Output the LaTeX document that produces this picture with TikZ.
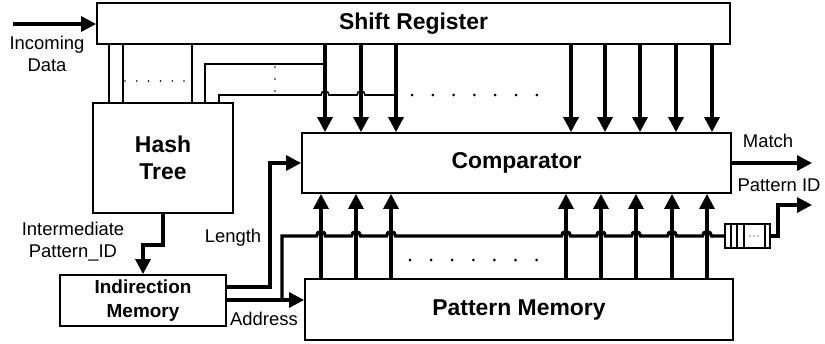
\documentclass[tikz,border=0pt]{standalone}
\usepackage{fontspec}
\setmainfont{Liberation Sans}
\usetikzlibrary{arrows.meta}
\begin{document}
\begin{tikzpicture}[x=1bp,y=-1bp,
  block/.style={draw, line width=1.8bp, inner sep=0pt, align=center,
    font=\bfseries\fontsize{23}{27}\selectfont},
  wire/.style={line width=1.6bp},
  bus/.style={line width=3.2bp},
  arr/.style={-{Triangle[length=15bp,width=15bp]}},
  lbl/.style={inner sep=0pt, align=center, font=\fontsize{18.5}{22}\selectfont}
]
\useasboundingbox (0,0) rectangle (825,343);

% functional blocks
\node[block, minimum width=633bp, minimum height=41bp] (sr)   at (413.5,23.5) {Shift Register};
\node[block, minimum width=140bp, minimum height=110bp] (hash) at (163,158)   {Hash\\Tree};
\node[block, minimum width=429bp, minimum height=60bp] (cmp)  at (516.5,163)  {Comparator};
\node[block, minimum width=428bp, minimum height=61bp] (pm)   at (519,309.5)  {Pattern Memory};
\node[block, minimum width=166bp, minimum height=51bp,
      font=\bfseries\fontsize{19}{24}\selectfont] (ind) at (143,300.5) {Indirection\\Memory};
\node[draw, line width=1.6bp, inner sep=0pt, minimum width=45bp, minimum height=24bp] (fifo) at (747.5,236) {};

% FIFO slots
\foreach \x in {731,737,744,765}
  \draw[line width=1.3bp] (\x,0 |- fifo.north) -- (\x,0 |- fifo.south);
\foreach \x in {750,754,758}
  \fill (\x,236) circle[radius=0.6bp];

% incoming data
\coordinate (in) at (13,24);
\draw[bus,arr] (in) -- (sr.west |- in);
\node[lbl] (inlbl) at (47,53.5) {Incoming\\Data};

% shift register taps into the hash tree
\foreach \x in {109,123,192}
  \draw[wire] (\x,0 |- sr.south) -- (\x,0 |- hash.north);
\foreach \i in {0,...,5}
  \fill (125+11.8*\i,81) circle[radius=0.9bp];
\foreach \i in {0,...,2}
  \fill (275,67+12*\i) circle[radius=0.9bp];

% hash tree outputs feeding the comparator lanes
\coordinate (ta) at (205,64);
\coordinate (tb) at (219,95);
\draw[wire] (ta |- hash.north) -- (ta) -- (325,64);
\draw[wire] (tb |- hash.north) -- (tb) -- (321,95)
  arc[start angle=180, end angle=0, radius=4bp] -- (357,95)
  arc[start angle=180, end angle=0, radius=4bp] -- (396,95);

% shift register to comparator
\foreach \x in {325,361,396,571,605,640,676,712}
  \draw[bus,arr] (\x,0 |- sr.south) -- (\x,0 |- cmp.north);
\foreach \i in {0,...,6}
  \fill (412+20.8*\i,95) circle[radius=1.5bp];

% pattern memory to comparator
\foreach \x in {321,356,391,566,601,636,672,707}
  \draw[bus,arr] (\x,0 |- pm.north) -- (\x,0 |- cmp.south);
\foreach \i in {0,...,6}
  \fill (410+21.1*\i,260) circle[radius=1.5bp];

% hash tree to indirection memory
\coordinate (h1) at (163,245);
\coordinate (h2) at (143,245);
\draw[bus,arr] (h1 |- hash.south) -- (h1) -- (h2) -- (h2 |- ind.north);
\node[lbl] (interlbl) at (73,241.5) {Intermediate\\Pattern\_ID};

% length to comparator
\coordinate (l1) at (270,287);
\draw[bus,arr] (ind.east |- l1) -- (l1) -- (l1 |- cmp.west) -- (cmp.west);
\node[lbl] (lenlbl) at (233,238) {Length};

% address to pattern memory, and the pattern ID bus
\coordinate (a1) at (282,300);
\coordinate (a2) at (282,236);
\draw[bus,arr] (ind.east |- a1) -- (pm.west |- a1);
\draw[bus] (a1) -- (a2) -- (316.5,236)
  arc[start angle=180, end angle=0, radius=4.5bp] -- (351.5,236)
  arc[start angle=180, end angle=0, radius=4.5bp] -- (386.5,236)
  arc[start angle=180, end angle=0, radius=4.5bp] -- (561.5,236)
  arc[start angle=180, end angle=0, radius=4.5bp] -- (596.5,236)
  arc[start angle=180, end angle=0, radius=4.5bp] -- (631.5,236)
  arc[start angle=180, end angle=0, radius=4.5bp] -- (667.5,236)
  arc[start angle=180, end angle=0, radius=4.5bp] -- (702.5,236)
  arc[start angle=180, end angle=0, radius=4.5bp] -- (fifo.west);
\node[lbl] (addrlbl) at (264,319) {Address};

% outputs
\coordinate (mo) at (812,163);
\draw[bus,arr] (cmp.east) -- (mo);
\node[lbl] (matchlbl) at (768,141) {Match};
\coordinate (p1) at (778,236);
\coordinate (p2) at (778,205);
\coordinate (po) at (812,205);
\draw[bus,arr] (fifo.east) -- (p1) -- (p2) -- (po);
\node[lbl] (pidlbl) at (779,185) {Pattern ID};
\end{tikzpicture}
\end{document}
